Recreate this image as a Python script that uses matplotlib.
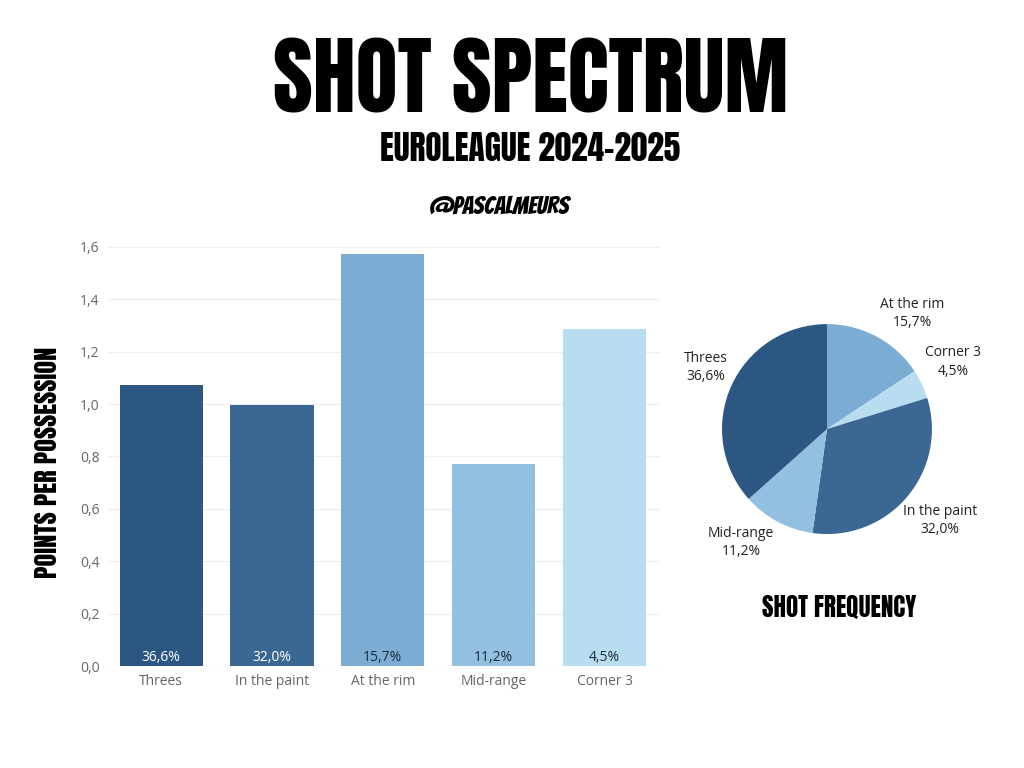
import matplotlib
matplotlib.use("Agg")
import matplotlib.pyplot as plt

# data
categories = ["Threes", "In the paint", "At the rim", "Mid-range", "Corner 3"]
ppp = [1.073, 0.996, 1.573, 0.773, 1.286]
freq = [36.6, 32.0, 15.7, 11.2, 4.5]
colors = ["#2c5782", "#3b6893", "#7bacd3", "#93c0e0", "#b8dcf0"]
pct_text_colors = ["white", "white", "#1d2a3a", "#1d2a3a", "#1d2a3a"]
yticks = [0.0, 0.2, 0.4, 0.6, 0.8, 1.0, 1.2, 1.4, 1.6]

# pie order (clockwise from 12 o'clock)
pie_order = ["At the rim", "Corner 3", "In the paint", "Mid-range", "Threes"]
pie_label_pos = [(0.81, 1.10), (1.20, 0.64), (1.08, -0.87), (-0.82, -1.08), (-1.15, 0.59)]

head_font = ["Anton", "DejaVu Sans"]
hand_font = ["Bangers", "DejaVu Sans"]
body_font = ["Open Sans", "DejaVu Sans"]


def fmt(v):
    return f"{v:.1f}".replace(".", ",")


fig = plt.figure(figsize=(10.24, 7.68), dpi=100)
fig.patch.set_facecolor("white")

# titles
fig.text(0.518, 0.853, "SHOT SPECTRUM", ha="center", va="baseline", fontsize=62,
         family=head_font, color="black")
fig.text(0.518, 0.790, "EUROLEAGUE 2024-2025", ha="center", va="baseline", fontsize=24,
         family=head_font, color="black")
fig.text(0.488, 0.721, "@PASCALMEURS", ha="center", va="baseline", fontsize=18,
         family=hand_font, color="black")

# bar chart
ax = fig.add_axes([0.1055, 0.1328, 0.539, 0.5456])
x = range(len(categories))
ax.bar(x, ppp, width=0.75, color=colors, zorder=2)
for i, (f, c) in enumerate(zip(freq, pct_text_colors)):
    ax.text(i, 0.005, fmt(f) + "%", ha="center", va="bottom", color=c,
            fontsize=10, family=body_font)
ax.set_xlim(-0.48, 4.5)
ax.set_ylim(0, 1.6)
ax.set_yticks(yticks)
ax.set_yticklabels([fmt(t) for t in yticks], family=body_font, fontsize=10, color="#666666")
ax.set_xticks(list(x))
ax.set_xticklabels(categories, family=body_font, fontsize=10, color="#666666")
ax.tick_params(length=0, pad=6)
ax.grid(axis="y", color="#eeeeee", linewidth=0.8, zorder=0)
for s in ax.spines.values():
    s.set_visible(False)
ax.axhline(0, color="#e6e6e6", linewidth=0.8, zorder=1)
fig.text(0.046, 0.398, "POINTS PER POSSESSION", rotation=90, ha="center", va="center",
         fontsize=19, family=head_font, color="black")

# pie chart
pax = fig.add_axes([0.6538, 0.2363, 0.3076, 0.41])
pie_vals = [freq[categories.index(n)] for n in pie_order]
pie_cols = [colors[categories.index(n)] for n in pie_order]
pax.pie(pie_vals, colors=pie_cols, startangle=90, counterclock=False,
        wedgeprops=dict(linewidth=0))
for n, v, (px, py) in zip(pie_order, pie_vals, pie_label_pos):
    pax.text(px, py, f"{n}\n{fmt(v)}%", ha="center", va="center", fontsize=10,
             family=body_font, color="#222222", linespacing=1.3)
pax.set_xlim(-1.5, 1.5)
pax.set_ylim(-1.5, 1.5)
pax.set_aspect("equal")
pax.axis("off")

fig.text(0.819, 0.197, "SHOT FREQUENCY", ha="center", va="baseline", fontsize=18,
         family=head_font, color="black")

fig.savefig("out.png", dpi=100, facecolor="white")
